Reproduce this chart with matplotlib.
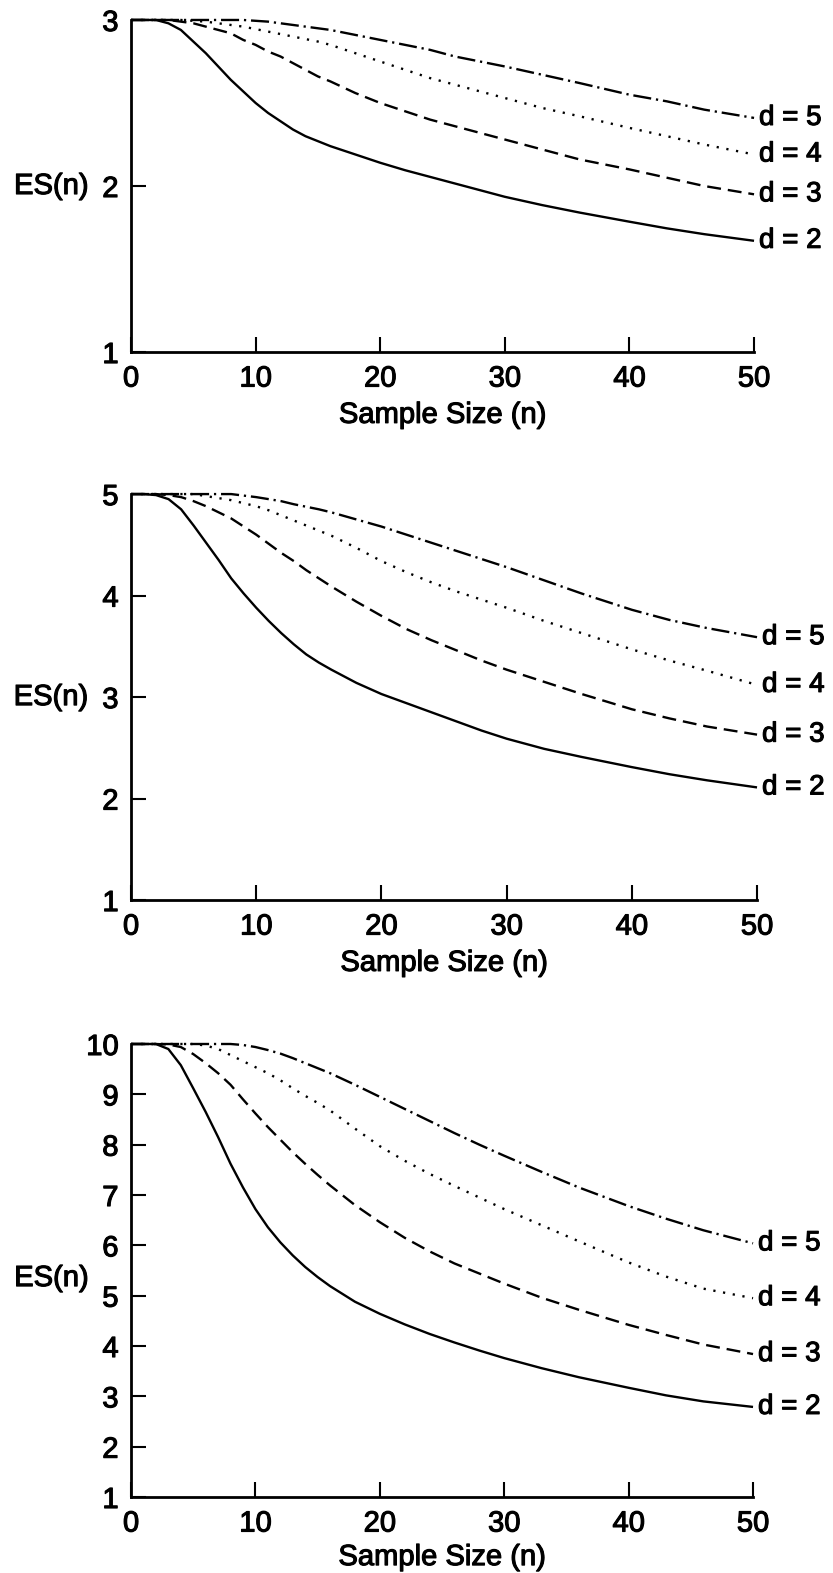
import matplotlib
matplotlib.use('Agg')
import matplotlib.pyplot as plt
import matplotlib.patheffects as pe
from matplotlib.text import Text

plt.rcParams['font.family'] = ['Liberation Sans', 'DejaVu Sans']
plt.rcParams['lines.scale_dashes'] = False

# sample sizes used for every curve
n = [0, 1, 2, 3, 4, 5, 6, 7, 8, 9, 10, 11, 12, 13, 14, 15, 16, 18, 20, 22,
     24, 26, 28, 30, 33, 36, 40, 43, 46, 50]

# top panel, ES(n) starts at 3
top_d2 = [3.00, 3.00, 3.00, 2.98, 2.94, 2.87, 2.80, 2.72, 2.64, 2.57, 2.50, 2.44, 2.39, 2.34, 2.30,
          2.27, 2.24, 2.19, 2.14, 2.095, 2.055, 2.015, 1.975, 1.935, 1.885, 1.84, 1.785, 1.745, 1.71, 1.67]
top_d3 = [3.00, 3.00, 3.00, 3.00, 2.99, 2.98, 2.96, 2.94, 2.92, 2.88, 2.85, 2.81, 2.78, 2.74, 2.70,
          2.66, 2.63, 2.56, 2.50, 2.45, 2.40, 2.36, 2.32, 2.28, 2.22, 2.16, 2.10, 2.05, 2.00, 1.95]
top_d4 = [3.00, 3.00, 3.00, 3.00, 3.00, 2.995, 2.99, 2.98, 2.97, 2.96, 2.945, 2.93, 2.915, 2.90, 2.885,
          2.87, 2.85, 2.80, 2.75, 2.70, 2.65, 2.61, 2.57, 2.53, 2.47, 2.42, 2.35, 2.30, 2.25, 2.19]
top_d5 = [3.00, 3.00, 3.00, 3.00, 3.00, 3.00, 3.00, 3.00, 3.00, 3.00, 2.995, 2.99, 2.98, 2.97, 2.96,
          2.95, 2.94, 2.91, 2.88, 2.85, 2.82, 2.78, 2.75, 2.72, 2.67, 2.62, 2.55, 2.51, 2.46, 2.41]

# middle panel, starts at 5
mid_d2 = [5.00, 5.00, 4.99, 4.95, 4.85, 4.69, 4.52, 4.35, 4.17, 4.02, 3.88, 3.75, 3.63, 3.52, 3.42,
          3.34, 3.27, 3.14, 3.03, 2.94, 2.85, 2.76, 2.67, 2.59, 2.49, 2.41, 2.31, 2.24, 2.18, 2.11]
mid_d3 = [5.00, 5.00, 5.00, 4.99, 4.97, 4.93, 4.88, 4.82, 4.76, 4.68, 4.60, 4.51, 4.42, 4.34, 4.25,
          4.17, 4.09, 3.94, 3.80, 3.67, 3.56, 3.46, 3.36, 3.27, 3.15, 3.03, 2.88, 2.79, 2.71, 2.63]
mid_d4 = [5.00, 5.00, 5.00, 5.00, 5.00, 5.00, 4.98, 4.96, 4.94, 4.91, 4.88, 4.84, 4.79, 4.74, 4.69,
          4.64, 4.59, 4.47, 4.34, 4.23, 4.13, 4.04, 3.96, 3.88, 3.75, 3.63, 3.47, 3.36, 3.26, 3.12]
mid_d5 = [5.00, 5.00, 5.00, 5.00, 5.00, 5.00, 5.00, 5.00, 5.00, 4.985, 4.97, 4.95, 4.93, 4.90, 4.875,
          4.85, 4.82, 4.75, 4.68, 4.60, 4.52, 4.44, 4.36, 4.28, 4.15, 4.02, 3.86, 3.76, 3.68, 3.59]

# bottom panel, starts at 10
bot_d2 = [10.0, 10.0, 10.0, 9.90, 9.58, 9.12, 8.65, 8.15, 7.62, 7.15, 6.72, 6.36, 6.06, 5.80, 5.57,
          5.37, 5.19, 4.88, 4.64, 4.43, 4.24, 4.07, 3.91, 3.76, 3.56, 3.38, 3.17, 3.02, 2.90, 2.79]
bot_d3 = [10.0, 10.0, 10.0, 9.99, 9.94, 9.80, 9.62, 9.42, 9.19, 8.90, 8.62, 8.35, 8.10, 7.85, 7.62,
          7.40, 7.19, 6.80, 6.46, 6.15, 5.88, 5.64, 5.44, 5.24, 4.96, 4.72, 4.42, 4.22, 4.03, 3.84]
bot_d4 = [10.0, 10.0, 10.0, 10.0, 10.0, 10.0, 9.97, 9.90, 9.78, 9.66, 9.54, 9.42, 9.28, 9.12, 8.97,
          8.83, 8.68, 8.32, 7.97, 7.68, 7.42, 7.18, 6.95, 6.72, 6.40, 6.08, 5.66, 5.38, 5.14, 4.95]
bot_d5 = [10.0, 10.0, 10.0, 10.0, 10.0, 10.0, 10.0, 10.0, 10.0, 9.98, 9.94, 9.88, 9.81, 9.72, 9.62,
          9.52, 9.42, 9.19, 8.95, 8.71, 8.47, 8.23, 8.00, 7.78, 7.46, 7.15, 6.78, 6.53, 6.30, 6.04]

d_labels = ['d = 2', 'd = 3', 'd = 4', 'd = 5']
styles = ['-', (0, (10, 5)), (0, (1.6, 5.5)), (0, (13, 3.5, 1.6, 3.5))]
x_ticks = [0, 10, 20, 30, 40, 50]

fig = plt.figure(figsize=(8.33, 15.73), dpi=100)


def draw_panel(rect, curves, ymax, es_y, labelpad):
    ax = fig.add_axes(rect)
    for vals, ls, lab in zip(curves, styles, d_labels):
        ax.plot(n, vals, color='black', lw=1.7, linestyle=ls,
                solid_capstyle='butt', clip_on=False)
        ax.text(50.4, vals[-1], lab, fontsize=20, ha='left', va='center')
    ax.set_xlim(0, 50)
    ax.set_ylim(1, ymax)
    ax.set_xticks(x_ticks)
    ax.set_yticks(list(range(1, ymax + 1)))
    for side in ['top', 'right']:
        ax.spines[side].set_visible(False)
    for side in ['left', 'bottom']:
        ax.spines[side].set_linewidth(2)
    ax.tick_params(direction='in', length=11, width=1.5, labelsize=21, pad=9)
    ax.set_xlabel('Sample Size (n)', fontsize=21, labelpad=labelpad)
    ax.text(-0.128, es_y, 'ES(n)', fontsize=21, ha='center', va='center',
            transform=ax.get_yaxis_transform())
    return ax


draw_panel([0.1573, 0.7762, 0.7479, 0.2111], [top_d2, top_d3, top_d4, top_d5], 3, 2.0, 6)
draw_panel([0.1573, 0.4278, 0.7515, 0.2581], [mid_d2, mid_d3, mid_d4, mid_d5], 5, 3.0, 6)
draw_panel([0.1573, 0.0483, 0.7467, 0.2880], [bot_d2, bot_d3, bot_d4, bot_d5], 10, 5.35, 4)

# the printed lettering is heavier than a regular face
for t in fig.findobj(Text):
    t.set_path_effects([pe.withStroke(linewidth=0.8, foreground='black')])

fig.savefig('out.png', dpi=100)
